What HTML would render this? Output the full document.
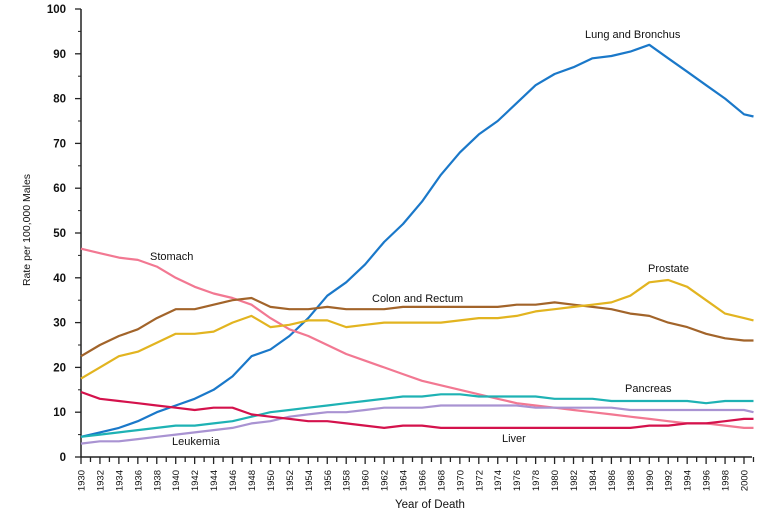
<!DOCTYPE html>
<html><head><meta charset="utf-8"><style>
body{margin:0;background:#fff;font-family:"Liberation Sans",sans-serif}
svg text{font-family:"Liberation Sans",sans-serif;fill:#111}
</style></head><body>
<svg id="c" width="776" height="512"></svg>
<script>
const years=[1930,1932,1934,1936,1938,1940,1942,1944,1946,1948,1950,1952,1954,1956,1958,1960,1962,1964,1966,1968,1970,1972,1974,1976,1978,1980,1982,1984,1986,1988,1990,1992,1994,1996,1998,2000,2001];
const lung=[4.5,5.5,6.5,8,10,11.5,13,15,18,22.5,24,27,31,36,39,43,48,52,57,63,68,72,75,79,83,85.5,87,89,89.5,90.5,92,89,86,83,80,76.5,76];
const stomach=[46.5,45.5,44.5,44,42.5,40,38,36.5,35.5,34,31,28.5,27,25,23,21.5,20,18.5,17,16,15,14,13,12,11.5,11,10.5,10,9.5,9,8.5,8,7.5,7.5,7,6.5,6.5];
const colon=[22.5,25,27,28.5,31,33,33,34,35,35.5,33.5,33,33,33.5,33,33,33,33.5,33.5,33.5,33.5,33.5,33.5,34,34,34.5,34,33.5,33,32,31.5,30,29,27.5,26.5,26,26];
const prostate=[17.5,20,22.5,23.5,25.5,27.5,27.5,28,30,31.5,29,29.5,30.5,30.5,29,29.5,30,30,30,30,30.5,31,31,31.5,32.5,33,33.5,34,34.5,36,39,39.5,38,35,32,31,30.5];
const pancreas=[4.5,5,5.5,6,6.5,7,7,7.5,8,9,10,10.5,11,11.5,12,12.5,13,13.5,13.5,14,14,13.5,13.5,13.5,13.5,13,13,13,12.5,12.5,12.5,12.5,12.5,12,12.5,12.5,12.5];
const leukemia=[3,3.5,3.5,4,4.5,5,5.5,6,6.5,7.5,8,9,9.5,10,10,10.5,11,11,11,11.5,11.5,11.5,11.5,11.5,11,11,11,11,11,10.5,10.5,10.5,10.5,10.5,10.5,10.5,10];
const liver=[14.5,13,12.5,12,11.5,11,10.5,11,11,9.5,9,8.5,8,8,7.5,7,6.5,7,7,6.5,6.5,6.5,6.5,6.5,6.5,6.5,6.5,6.5,6.5,6.5,7,7,7.5,7.5,8,8.5,8.5];
const yTicks=[0,10,20,30,40,50,60,70,80,90,100];

const svg=document.getElementById('c');const NS='http://www.w3.org/2000/svg';
const X=y=>81+(y-1930)*(663/70);
const Y=v=>457-v*4.48;
function mk(t,a,p){const e=document.createElementNS(NS,t);for(const k in a)e.setAttribute(k,a[k]);(p||svg).appendChild(e);return e;}
// axes
let ax=mk('line',{x1:81,y1:9,x2:81,y2:457,stroke:'#222','stroke-width':1.5});


let bx=mk('line',{x1:81,y1:457,x2:752,y2:457,stroke:'#222','stroke-width':1.5});


yTicks.forEach(v=>{
  mk('line',{x1:75,y1:Y(v),x2:81,y2:Y(v),stroke:'#222','stroke-width':1.3});
  if(v<100)mk('line',{x1:78,y1:Y(v+5),x2:81,y2:Y(v+5),stroke:'#222','stroke-width':1});
  const t=mk('text',{x:66,y:Y(v)+4,'text-anchor':'end','font-size':11.5,'font-weight':'bold'});t.textContent=v;
  
  
});
for(let yr=1930;yr<=2001;yr++){
  const major=yr%2==0;
  mk('line',{x1:X(yr),y1:457,x2:X(yr),y2:major?464:462,stroke:'#222','stroke-width':1.3});
  if(major){const t=mk('text',{transform:`translate(${X(yr)+3.5},470) rotate(-90)`,'text-anchor':'end','font-size':9.5});t.textContent=yr;
  
  }
}
const series=[['lung',lung,'#1a78c9'],['stomach',stomach,'#f27892'],['colon',colon,'#a2642a'],['prostate',prostate,'#e2b420'],['pancreas',pancreas,'#1eb2b4'],['leukemia',leukemia,'#a993d2'],['liver',liver,'#d4124c']];
series.forEach(([n,d,c])=>{
  const p=mk('path',{d:d.map((v,i)=>(i?'L':'M')+X(years[i]).toFixed(1)+','+Y(v).toFixed(1)).join(''),fill:'none',stroke:c,'stroke-width':2.2,'stroke-linejoin':'round'});
  
  
});
const labels=[['Lung and Bronchus',585,38],['Stomach',150,260],['Colon and Rectum',372,302],['Prostate',648,272],['Pancreas',625,392],['Leukemia',172,445],['Liver',502,442]];
labels.forEach(([s,x,y])=>{const t=mk('text',{x,y,'font-size':11});t.textContent=s;
  
  });
let yt=mk('text',{transform:'translate(30,230) rotate(-90)','text-anchor':'middle','font-size':10.5});yt.textContent='Rate per 100,000 Males';


let xt=mk('text',{x:430,y:508,'text-anchor':'middle','font-size':11.5});xt.textContent='Year of Death';


</script>
</body></html>
